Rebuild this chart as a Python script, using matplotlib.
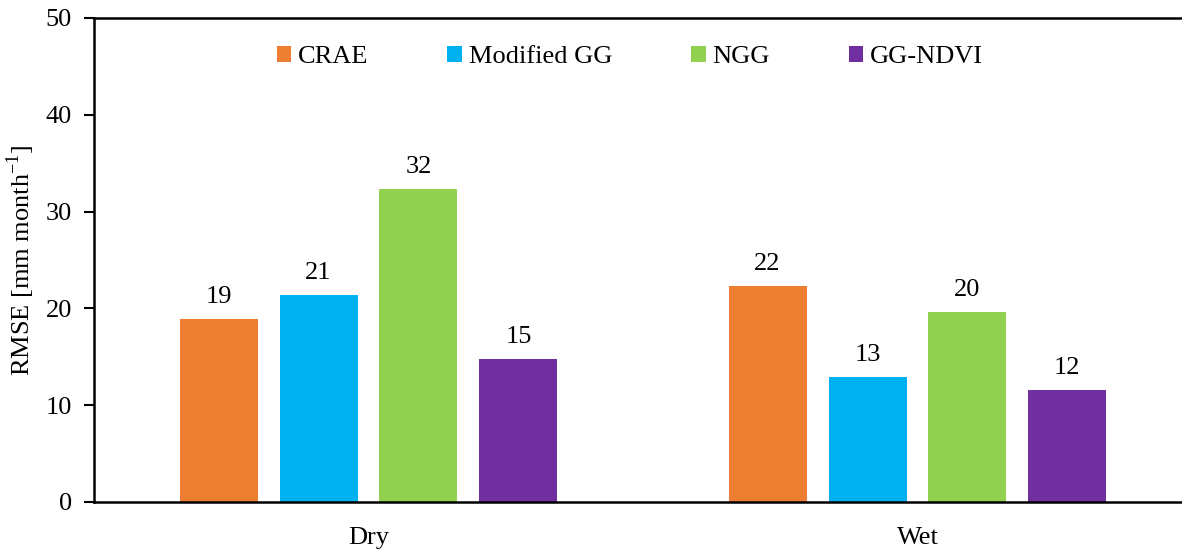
import numpy as np
import matplotlib.pyplot as plt

plt.rcParams['font.family'] = ['Liberation Serif', 'DejaVu Serif']
plt.rcParams['mathtext.fontset'] = 'custom'
plt.rcParams['mathtext.rm'] = 'Liberation Serif'

seasons = ['Dry', 'Wet']
methods = ['CRAE', 'Modified GG', 'NGG', 'GG-NDVI']
crae = [18.9, 22.3]
modified_gg = [21.4, 12.9]
ngg = [32.3, 19.6]
gg_ndvi = [14.8, 11.6]
colors = ['#ED7D31', '#00B0F0', '#92D050', '#7030A0']

series = [crae, modified_gg, ngg, gg_ndvi]
fs = 19

fig = plt.figure(figsize=(11.82, 5.53), dpi=100)
# right edge goes past the figure so the right spine is hidden like the original
ax = fig.add_axes([94 / 1182, 51 / 553, 1098 / 1182, 484 / 553])

x = np.arange(len(seasons))
step = 0.182
width = 0.142
for i, (vals, name, c) in enumerate(zip(series, methods, colors)):
    bars = ax.bar(x + (i - 1.5) * step, vals, width, color=c, label=name)
    ax.bar_label(bars, labels=[f'{v:.0f}' for v in vals], padding=8, fontsize=fs)

ax.set_xlim(-0.5, 1.5)
ax.set_ylim(0, 50)
ax.set_yticks(range(0, 51, 10))
ax.set_xticks(x)
ax.set_xticklabels(seasons)
ax.tick_params(axis='y', labelsize=fs, length=7, width=1.5, pad=9)
ax.tick_params(axis='x', labelsize=fs, length=0, pad=18)
for s in ['left', 'bottom', 'top']:
    ax.spines[s].set_linewidth(1.8)
ax.spines['right'].set_visible(False)

ax.set_ylabel('RMSE [mm month$^{\\mathregular{-1}}$]', fontsize=fs, labelpad=6)

ax.legend(loc='center', bbox_to_anchor=(0.488, 0.919), ncol=4, frameon=False,
          fontsize=fs, handlelength=0.55, handleheight=0.55, handletextpad=0.25,
          columnspacing=3.0)

fig.savefig('out.png', dpi=100)
